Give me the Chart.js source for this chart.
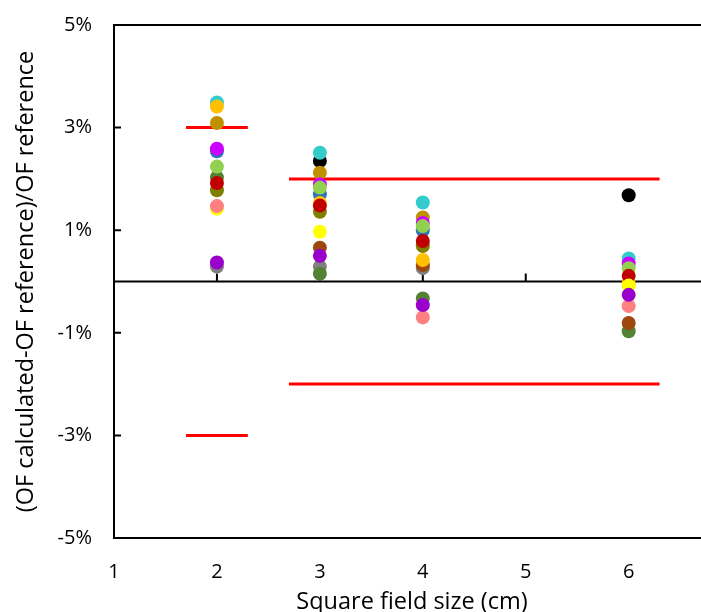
<!DOCTYPE html>
<html>
<head>
<meta charset="utf-8">
<script src="https://cdn.jsdelivr.net/npm/chart.js@4.4.1/dist/chart.umd.min.js"></script>
<style>
  html, body { margin: 0; padding: 0; background: #fff; overflow: hidden; }
  #wrap { width: 701px; height: 612px; overflow: hidden; }
</style>
</head>
<body>
<div id="wrap"><canvas id="ofChart" width="717" height="612"></canvas></div>
<script>
// square field sizes (cm) that were measured
const fieldSizes = [2, 3, 4, 6];
const xTicks = [1, 2, 3, 4, 5, 6];
const yTicks = [-5, -3, -1, 1, 3, 5];

// (OF calc - OF ref)/OF ref in %, one array per detector, null = not visible
const grayVals   = [0.29, 0.29, 0.26, null];
const dkGreenVals = [2.03, 0.15, -0.33, -0.97];
const brownVals  = [null, 0.66, 0.32, -0.81];
const blackVals  = [null, 2.35, null, 1.68];
const cyanVals   = [3.49, 2.51, 1.54, 0.45];
const goldVals   = [3.09, 2.12, 1.25, null];
const blueVals   = [2.54, 1.70, 1.00, null];
const magentaVals = [2.59, 1.89, 1.14, 0.35];
const ltGreenVals = [2.24, 1.83, 1.08, 0.26];
const oliveVals  = [1.78, 1.36, 0.69, null];
const orangeVals = [3.41, 1.53, 0.42, -0.03];
const redVals    = [1.92, 1.48, 0.79, 0.11];
const yellowVals = [1.42, 0.97, null, -0.08];
const pinkVals   = [1.47, null, -0.70, -0.48];
const purpleVals = [0.37, 0.50, -0.46, -0.26];

// tolerance limits: +-3% for 2 cm, +-2% for 3-6 cm
const limitX2 = [1.7, 2.3];
const limit2 = 3;
const limitXOther = [2.7, 6.3];
const limitOther = 2;

// listed bottom to top as they are stacked in the picture
const series = [
  { values: grayVals, color: '#808080' },
  { values: dkGreenVals, color: '#548235' },
  { values: brownVals, color: '#9E480E' },
  { values: blackVals, color: '#000000' },
  { values: cyanVals, color: '#33CCCC' },
  { values: goldVals, color: '#BF9000' },
  { values: blueVals, color: '#2E75B6' },
  { values: magentaVals, color: '#CC00FF' },
  { values: ltGreenVals, color: '#92D050' },
  { values: oliveVals, color: '#808000' },
  { values: orangeVals, color: '#FFC000' },
  { values: redVals, color: '#C00000' },
  { values: yellowVals, color: '#FFFF00' },
  { values: pinkVals, color: '#FF8080' },
  { values: purpleVals, color: '#9900CC' }
];

const pointSets = series.map((s, i) => ({
  type: 'scatter',
  data: fieldSizes.map((x, k) => ({ x: x, y: s.values[k] })).filter(p => p.y !== null),
  backgroundColor: s.color,
  borderColor: s.color,
  borderWidth: 0,
  pointRadius: 7,
  order: series.length - i
}));

function limitLine(xs, y) {
  return {
    type: 'line',
    data: xs.map(x => ({ x: x, y: y })),
    borderColor: '#FF0000',
    borderWidth: 3,
    pointRadius: 0,
    showLine: true,
    fill: false,
    order: 100
  };
}
const limitSets = [
  limitLine(limitX2, limit2), limitLine(limitX2, -limit2),
  limitLine(limitXOther, limitOther), limitLine(limitXOther, -limitOther)
];

// frame, zero line and small inside ticks, like the Excel original
const axisFrame = {
  id: 'axisFrame',
  beforeDatasetsDraw(chart) {
    const { ctx, chartArea: a, scales: { x, y } } = chart;
    const y0 = y.getPixelForValue(0);
    ctx.save();
    ctx.strokeStyle = '#000';
    ctx.lineWidth = 2;
    ctx.beginPath();
    ctx.moveTo(a.right, a.top);
    ctx.lineTo(a.left, a.top);
    ctx.lineTo(a.left, a.bottom);
    ctx.lineTo(a.right, a.bottom);
    ctx.moveTo(a.left, y0);
    ctx.lineTo(a.right, y0);
    yTicks.forEach(v => {
      const py = y.getPixelForValue(v);
      ctx.moveTo(a.left, py);
      ctx.lineTo(a.left + 7, py);
    });
    xTicks.slice(1).forEach(v => {
      const px = x.getPixelForValue(v);
      ctx.moveTo(px, y0);
      ctx.lineTo(px, y0 - 8);
    });
    ctx.stroke();
    ctx.restore();
  }
};

const font = 'Open Sans';

new Chart(document.getElementById('ofChart'), {
  type: 'scatter',
  data: { datasets: limitSets.concat(pointSets) },
  options: {
    responsive: false,
    animation: false,
    layout: { padding: { top: 25, right: 0, left: 0, bottom: 0 } },
    plugins: { legend: { display: false }, tooltip: { enabled: false } },
    scales: {
      x: {
        type: 'linear',
        position: 'bottom',
        min: 1,
        max: 6.79,
        afterBuildTicks: s => { s.ticks = xTicks.map(v => ({ value: v })); },
        afterFit: s => { s.height = 74; },
        grid: { display: false, drawTicks: false },
        border: { display: false },
        ticks: { padding: 22, color: '#000', font: { family: font, size: 20 }, maxRotation: 0 },
        title: {
          display: true,
          text: 'Square field size (cm)',
          color: '#000',
          font: { family: font, size: 23.5, lineHeight: 0.8 },
          padding: 0
        }
      },
      y: {
        min: -5,
        max: 5,
        afterBuildTicks: s => { s.ticks = yTicks.map(v => ({ value: v })); },
        afterFit: s => { s.width = 114; },
        grid: { display: false, drawTicks: false },
        border: { display: false },
        ticks: {
          padding: 22,
          color: '#000',
          font: { family: font, size: 20, lineHeight: 0.2 },
          callback: v => v + '%'
        },
        title: {
          display: true,
          text: '(OF calculated-OF reference)/OF reference',
          color: '#000',
          font: { family: font, size: 23.5, lineHeight: 1 },
          padding: { top: 15, bottom: 0 }
        }
      }
    }
  },
  plugins: [axisFrame]
});
</script>
</body>
</html>
